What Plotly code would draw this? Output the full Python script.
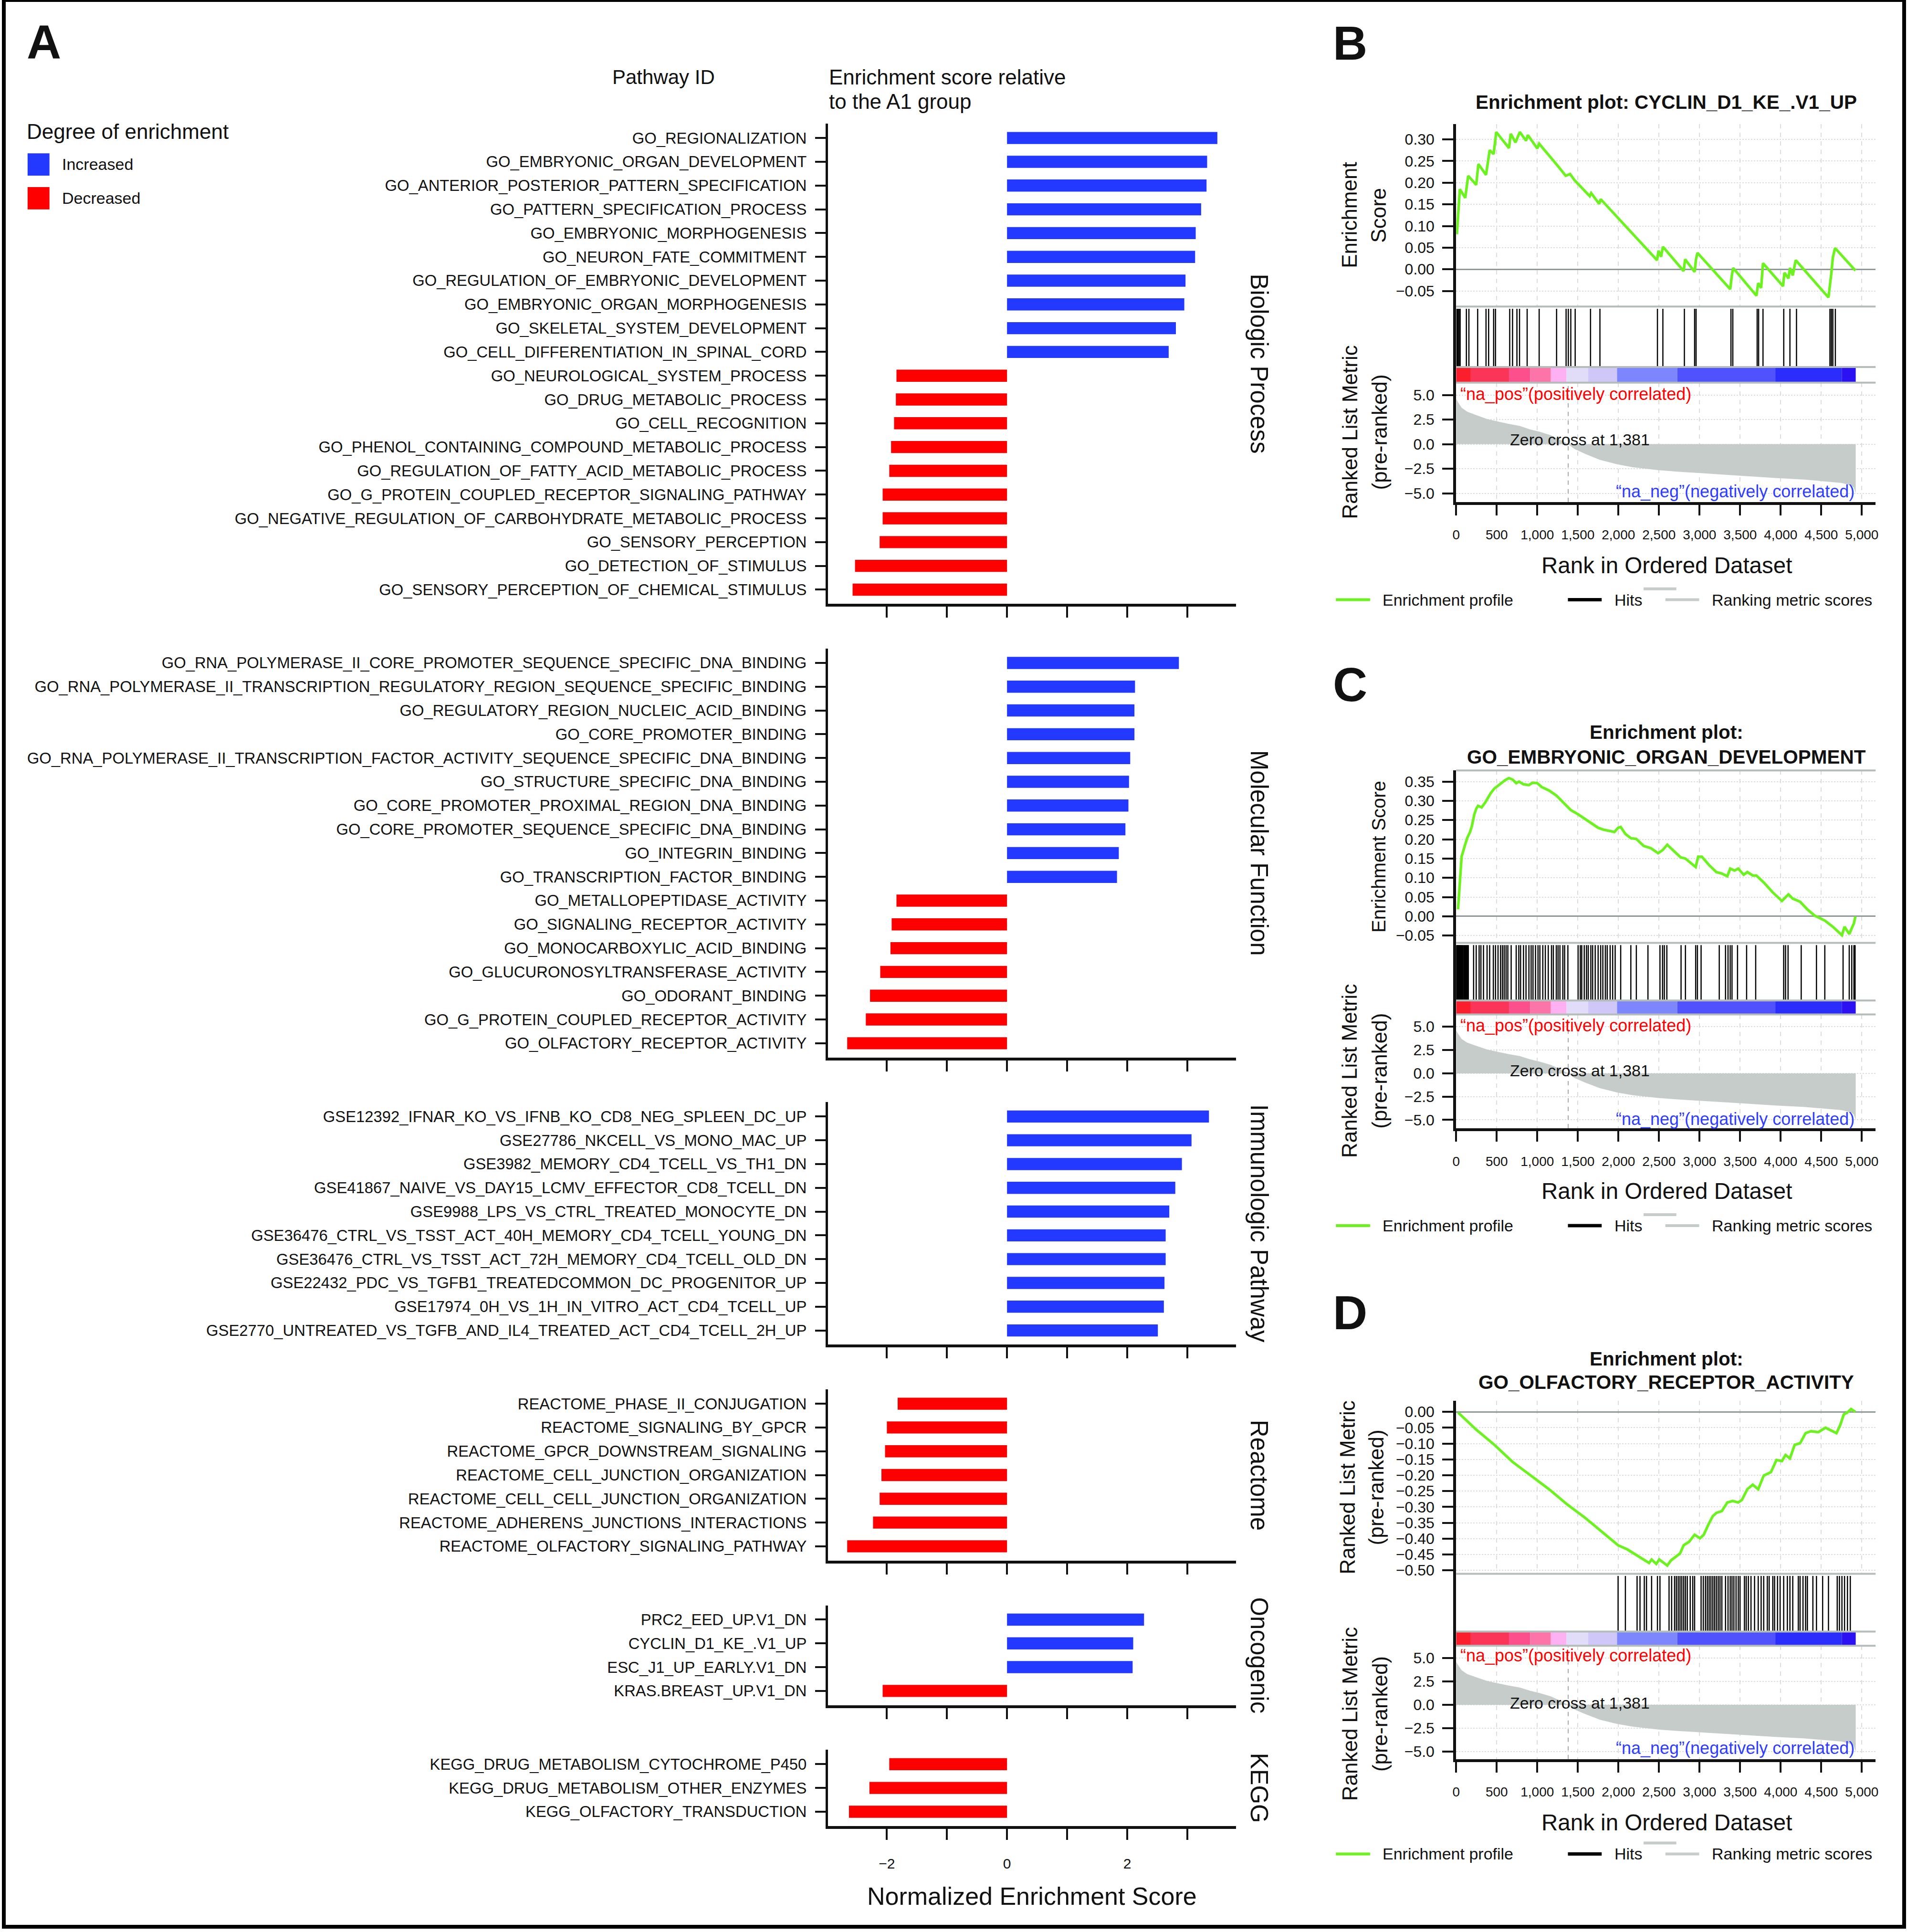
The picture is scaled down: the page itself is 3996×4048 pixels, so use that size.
import plotly.graph_objects as go

W, H = 3996, 4048
FONT = "Liberation Sans, Arial, Helvetica, sans-serif"
INK = "#111111"

# ------------------------------------------------------------------ Panel A data
bp_labels = ["GO_REGIONALIZATION", "GO_EMBRYONIC_ORGAN_DEVELOPMENT", "GO_ANTERIOR_POSTERIOR_PATTERN_SPECIFICATION",
             "GO_PATTERN_SPECIFICATION_PROCESS", "GO_EMBRYONIC_MORPHOGENESIS", "GO_NEURON_FATE_COMMITMENT",
             "GO_REGULATION_OF_EMBRYONIC_DEVELOPMENT", "GO_EMBRYONIC_ORGAN_MORPHOGENESIS", "GO_SKELETAL_SYSTEM_DEVELOPMENT",
             "GO_CELL_DIFFERENTIATION_IN_SPINAL_CORD", "GO_NEUROLOGICAL_SYSTEM_PROCESS", "GO_DRUG_METABOLIC_PROCESS",
             "GO_CELL_RECOGNITION", "GO_PHENOL_CONTAINING_COMPOUND_METABOLIC_PROCESS",
             "GO_REGULATION_OF_FATTY_ACID_METABOLIC_PROCESS", "GO_G_PROTEIN_COUPLED_RECEPTOR_SIGNALING_PATHWAY",
             "GO_NEGATIVE_REGULATION_OF_CARBOHYDRATE_METABOLIC_PROCESS", "GO_SENSORY_PERCEPTION",
             "GO_DETECTION_OF_STIMULUS", "GO_SENSORY_PERCEPTION_OF_CHEMICAL_STIMULUS"]
bp_nes = [3.50, 3.33, 3.32, 3.23, 3.14, 3.13, 2.97, 2.95, 2.81, 2.69,
          -1.84, -1.85, -1.88, -1.93, -1.96, -2.07, -2.07, -2.12, -2.53, -2.57]

mf_labels = ["GO_RNA_POLYMERASE_II_CORE_PROMOTER_SEQUENCE_SPECIFIC_DNA_BINDING",
             "GO_RNA_POLYMERASE_II_TRANSCRIPTION_REGULATORY_REGION_SEQUENCE_SPECIFIC_BINDING",
             "GO_REGULATORY_REGION_NUCLEIC_ACID_BINDING", "GO_CORE_PROMOTER_BINDING",
             "GO_RNA_POLYMERASE_II_TRANSCRIPTION_FACTOR_ACTIVITY_SEQUENCE_SPECIFIC_DNA_BINDING",
             "GO_STRUCTURE_SPECIFIC_DNA_BINDING", "GO_CORE_PROMOTER_PROXIMAL_REGION_DNA_BINDING",
             "GO_CORE_PROMOTER_SEQUENCE_SPECIFIC_DNA_BINDING", "GO_INTEGRIN_BINDING", "GO_TRANSCRIPTION_FACTOR_BINDING",
             "GO_METALLOPEPTIDASE_ACTIVITY", "GO_SIGNALING_RECEPTOR_ACTIVITY", "GO_MONOCARBOXYLIC_ACID_BINDING",
             "GO_GLUCURONOSYLTRANSFERASE_ACTIVITY", "GO_ODORANT_BINDING", "GO_G_PROTEIN_COUPLED_RECEPTOR_ACTIVITY",
             "GO_OLFACTORY_RECEPTOR_ACTIVITY"]
mf_nes = [2.86, 2.13, 2.12, 2.12, 2.05, 2.03, 2.02, 1.97, 1.86, 1.83,
          -1.84, -1.92, -1.94, -2.11, -2.28, -2.35, -2.66]

imm_labels = ["GSE12392_IFNAR_KO_VS_IFNB_KO_CD8_NEG_SPLEEN_DC_UP", "GSE27786_NKCELL_VS_MONO_MAC_UP",
              "GSE3982_MEMORY_CD4_TCELL_VS_TH1_DN", "GSE41867_NAIVE_VS_DAY15_LCMV_EFFECTOR_CD8_TCELL_DN",
              "GSE9988_LPS_VS_CTRL_TREATED_MONOCYTE_DN", "GSE36476_CTRL_VS_TSST_ACT_40H_MEMORY_CD4_TCELL_YOUNG_DN",
              "GSE36476_CTRL_VS_TSST_ACT_72H_MEMORY_CD4_TCELL_OLD_DN",
              "GSE22432_PDC_VS_TGFB1_TREATEDCOMMON_DC_PROGENITOR_UP", "GSE17974_0H_VS_1H_IN_VITRO_ACT_CD4_TCELL_UP",
              "GSE2770_UNTREATED_VS_TGFB_AND_IL4_TREATED_ACT_CD4_TCELL_2H_UP"]
imm_nes = [3.36, 3.07, 2.91, 2.80, 2.70, 2.64, 2.64, 2.62, 2.61, 2.51]

reac_labels = ["REACTOME_PHASE_II_CONJUGATION", "REACTOME_SIGNALING_BY_GPCR", "REACTOME_GPCR_DOWNSTREAM_SIGNALING",
               "REACTOME_CELL_JUNCTION_ORGANIZATION", "REACTOME_CELL_CELL_JUNCTION_ORGANIZATION",
               "REACTOME_ADHERENS_JUNCTIONS_INTERACTIONS", "REACTOME_OLFACTORY_SIGNALING_PATHWAY"]
reac_nes = [-1.82, -2.00, -2.03, -2.09, -2.12, -2.23, -2.66]

onc_labels = ["PRC2_EED_UP.V1_DN", "CYCLIN_D1_KE_.V1_UP", "ESC_J1_UP_EARLY.V1_DN", "KRAS.BREAST_UP.V1_DN"]
onc_nes = [2.28, 2.10, 2.09, -2.07]

kegg_labels = ["KEGG_DRUG_METABOLISM_CYTOCHROME_P450", "KEGG_DRUG_METABOLISM_OTHER_ENZYMES",
               "KEGG_OLFACTORY_TRANSDUCTION"]
kegg_nes = [-1.96, -2.29, -2.63]

facet_names = ["Biologic Process", "Molecular Function", "Immunologic Pathway", "Reactome", "Oncogenic", "KEGG"]
nes_ticks = [-2, -1, 0, 1, 2, 3]
nes_ticktext = ["\u22122", "", "0", "", "2", ""]

# ------------------------------------------------------------------ GSEA data (B, C, D)
rank_ticks = [0, 500, 1000, 1500, 2000, 2500, 3000, 3500, 4000, 4500, 5000]
zero_cross = 1381

metric_rank = [1, 20, 67, 135, 247, 382, 516, 651, 785, 911, 1032, 1167, 1279, 1381, 1458, 1593, 1772, 1983,
               2176, 2490, 2728, 3163, 3477, 3934, 4284, 4755, 4867, 4900, 4925]
metric_value = [4.6, 4.3, 3.7, 3.3, 2.95, 2.55, 2.3, 2.05, 1.85, 1.5, 1.25, 0.9, 0.45, 0.0, -0.5, -1.0, -1.6, -2.05,
                -2.35, -2.65, -2.8, -3.05, -3.2, -3.45, -3.6, -3.95, -4.2, -4.4, -5.0]

bar_edges = [0, 180, 651, 911, 1167, 1360, 1628, 1983, 2727, 3934, 4755, 4925]
bar_colors = ["#fb1e2c", "#fa3558", "#fd4f8b", "#fd74a8", "#fdb0f2", "#e1ddf8", "#cec7f7", "#7d86fd", "#5052fd",
              "#2b2dfd", "#2c12f2"]

es_b_rank = [9, 45, 112, 148, 247, 274, 368, 413, 462, 494, 651, 673, 731, 785, 861, 884, 1000, 1023, 1234, 1350,
             1404, 1458, 1646, 1664, 1763, 1781, 2476, 2494, 2526, 2548, 2804, 2822, 2939, 2956, 2974, 3378, 3396,
             3414, 3701, 3723, 3759, 3782, 4029, 4046, 4096, 4114, 4149, 4185, 4589, 4607, 4625, 4643, 4670, 4921]
es_b_score = [0.081, 0.185, 0.165, 0.216, 0.195, 0.243, 0.218, 0.275, 0.266, 0.317, 0.280, 0.313, 0.293, 0.317,
              0.297, 0.310, 0.279, 0.290, 0.243, 0.216, 0.220, 0.206, 0.169, 0.176, 0.151, 0.162, 0.021, 0.043,
              0.029, 0.052, -0.004, 0.023, -0.006, 0.023, 0.038, -0.046, -0.017, 0.003, -0.061, -0.032, -0.043,
              0.014, -0.039, -0.008, -0.021, 0.003, -0.014, 0.021, -0.065, -0.039, -0.008, 0.027, 0.049, -0.003]
hits_b = [9, 22, 36, 49, 126, 157, 265, 368, 400, 462, 485, 660, 695, 749, 781, 875, 1023, 1238, 1355, 1382, 1413,
          1467, 1656, 1772, 2481, 2548, 2813, 2939, 2957, 3387, 3410, 3710, 3728, 3782, 4038, 4114, 4195, 4607, 4625,
          4643, 4674]

es_c_rank = [23, 45, 67, 103, 135, 171, 193, 224, 247, 269, 314, 359, 390, 426, 471, 516, 561, 606, 651, 696, 740,
             776, 830, 897, 942, 1000, 1054, 1144, 1234, 1323, 1413, 1503, 1593, 1682, 1750, 1817, 1907, 1951, 1996,
             2028, 2086, 2153, 2221, 2310, 2400, 2490, 2544, 2602, 2692, 2768, 2826, 2952, 2983, 3028, 3118, 3207,
             3275, 3342, 3378, 3432, 3477, 3544, 3589, 3656, 3701, 3791, 3903, 4015, 4096, 4149, 4239, 4329, 4419,
             4486, 4544, 4643, 4755, 4787, 4845, 4876, 4903, 4921]
es_c_score = [0.018, 0.083, 0.155, 0.181, 0.203, 0.219, 0.234, 0.265, 0.279, 0.287, 0.283, 0.296, 0.307, 0.320,
              0.332, 0.340, 0.347, 0.354, 0.359, 0.355, 0.346, 0.350, 0.343, 0.341, 0.347, 0.346, 0.336, 0.327,
              0.314, 0.294, 0.276, 0.265, 0.252, 0.239, 0.230, 0.225, 0.221, 0.219, 0.230, 0.232, 0.214, 0.203,
              0.201, 0.183, 0.177, 0.164, 0.172, 0.186, 0.168, 0.153, 0.150, 0.128, 0.155, 0.155, 0.133, 0.115,
              0.111, 0.104, 0.124, 0.119, 0.124, 0.108, 0.115, 0.106, 0.106, 0.088, 0.062, 0.040, 0.057, 0.046,
              0.038, 0.018, 0.002, -0.004, -0.011, -0.027, -0.049, -0.027, -0.046, -0.031, -0.018, 0.000]
hits_c = [3, 9, 14, 21, 27, 34, 42, 48, 57, 66, 74, 83, 95, 104, 117, 128, 139, 150, 215, 247, 283, 305, 337, 381,
          413, 458, 485, 516, 547, 570, 592, 615, 637, 678, 740, 772, 794, 830, 861, 897, 924, 947, 978, 1009, 1032,
          1068, 1099, 1135, 1175, 1198, 1234, 1256, 1279, 1315, 1337, 1377, 1503, 1530, 1548, 1579, 1606, 1628, 1660,
          1682, 1714, 1750, 1781, 1808, 1839, 1862, 1898, 1929, 1960, 2028, 2153, 2221, 2364, 2512, 2544, 2566, 2597,
          2772, 2826, 2952, 2974, 3019, 3243, 3320, 3351, 3378, 3400, 3468, 3580, 3692, 4037, 4060, 4091, 4253, 4441,
          4544, 4769, 4845, 4876, 4903, 4917]

es_d_rank = [23, 247, 471, 696, 920, 1144, 1368, 1593, 1817, 1996, 2109, 2221, 2310, 2378, 2409, 2467, 2503, 2602,
             2647, 2759, 2804, 2871, 2939, 3006, 3051, 3118, 3163, 3207, 3275, 3342, 3409, 3477, 3522, 3589, 3656,
             3723, 3791, 3880, 3948, 4015, 4060, 4114, 4172, 4239, 4307, 4374, 4464, 4553, 4621, 4688, 4733, 4778,
             4823, 4867, 4921]
es_d_score = [-0.002, -0.056, -0.104, -0.158, -0.201, -0.244, -0.292, -0.335, -0.383, -0.421, -0.434, -0.453,
              -0.466, -0.477, -0.466, -0.480, -0.466, -0.485, -0.469, -0.447, -0.421, -0.410, -0.388, -0.399,
              -0.388, -0.351, -0.329, -0.319, -0.313, -0.286, -0.281, -0.286, -0.278, -0.244, -0.230, -0.244,
              -0.201, -0.190, -0.152, -0.155, -0.136, -0.147, -0.104, -0.099, -0.067, -0.061, -0.064, -0.050,
              -0.059, -0.067, -0.042, -0.008, -0.002, 0.009, 0.000]
hits_d = [1996, 2086, 2230, 2266, 2319, 2346, 2409, 2481, 2512, 2624, 2656, 2692, 2714, 2737, 2759, 2781, 2804, 2826,
          2849, 2885, 2916, 2939, 3019, 3046, 3073, 3096, 3118, 3140, 3163, 3185, 3207, 3230, 3252, 3275, 3320, 3351,
          3378, 3400, 3423, 3450, 3477, 3499, 3553, 3575, 3602, 3634, 3678, 3723, 3759, 3791, 3835, 3858, 3903, 3925,
          3961, 3993, 4037, 4082, 4114, 4149, 4217, 4239, 4275, 4307, 4329, 4397, 4441, 4517, 4589, 4697, 4724, 4755,
          4787, 4823, 4858]

# ------------------------------------------------------------------ helpers
layout = {}
traces = []
annotations = []
shapes = []
_axn = [0]


def new_axes(xpx, ypx, xa, ya):
    _axn[0] += 1
    n = _axn[0]
    s = "" if n == 1 else str(n)
    layout["xaxis" + s] = dict(domain=[xpx[0] / W, xpx[1] / W], anchor="y" + s, **xa)
    layout["yaxis" + s] = dict(domain=[1 - ypx[1] / H, 1 - ypx[0] / H], anchor="x" + s, **ya)
    return "x" + s, "y" + s


def ann(text, x, y, size, xanchor="center", yanchor="middle", color=INK, bold=False, angle=0):
    if bold:
        text = "<b>" + text + "</b>"
    annotations.append(dict(text=text, x=x / W, y=1 - y / H, xref="paper", yref="paper", xanchor=xanchor,
                            yanchor=yanchor, showarrow=False, textangle=angle,
                            font=dict(size=size, color=color, family=FONT)))


def pline(x0, y0, x1, y1, color, width, dash=None):
    shapes.append(dict(type="line", xref="paper", yref="paper", x0=x0 / W, x1=x1 / W, y0=1 - y0 / H, y1=1 - y1 / H,
                       line=dict(color=color, width=width, dash=dash)))


def prect(x0, y0, x1, y1, color):
    shapes.append(dict(type="rect", xref="paper", yref="paper", x0=x0 / W, x1=x1 / W, y0=1 - y1 / H, y1=1 - y0 / H,
                       fillcolor=color, line=dict(width=0)))


# ------------------------------------------------------------------ Panel A
BLUE, RED = "#2339ff", "#ff0000"
A_X = (1733, 2591)
UNIT = 49.94
GAP = 94
facets = [(bp_labels, bp_nes), (mf_labels, mf_nes), (imm_labels, imm_nes), (reac_labels, reac_nes),
          (onc_labels, onc_nes), (kegg_labels, kegg_nes)]
top = 260
for i, (labs, vals) in enumerate(facets):
    n = len(labs)
    bot = top + (n + 0.2) * UNIT
    last = i == len(facets) - 1
    xa = dict(range=[-2.98, 3.81], tickmode="array", tickvals=nes_ticks, ticktext=nes_ticktext,
              showticklabels=last, ticks="outside", ticklen=23, tickwidth=4, tickcolor=INK,
              showline=True, linewidth=6, linecolor=INK, showgrid=False, zeroline=False,
              tickfont=dict(size=30, color=INK, family=FONT), ticklabelstandoff=24)
    ya = dict(type="category", categoryorder="array", categoryarray=list(reversed(labs)), range=[-0.6, n - 0.4],
              ticks="outside", ticklen=22, tickwidth=4, tickcolor=INK, showline=True, linewidth=5, linecolor=INK,
              showgrid=False, zeroline=False, tickfont=dict(size=32.8, color=INK, family=FONT),
              ticklabelstandoff=11)
    xn, yn = new_axes(A_X, (top, bot), xa, ya)
    traces.append(go.Bar(x=vals, y=labs, orientation="h", width=0.51, xaxis=xn, yaxis=yn, showlegend=False,
                         marker=dict(color=[BLUE if v > 0 else RED for v in vals], line=dict(width=0))))
    ann(facet_names[i], 2640, (top + bot) / 2, 51, angle=90)
    top = bot + GAP

ann("Normalized Enrichment Score", 2162, 3984, 52)
ann("A", 46, 88, 100, xanchor="left", bold=True)
ann("Pathway ID", 1387, 162, 42)
ann("Enrichment score relative", 1733, 162, 44, xanchor="left")
ann("to the A1 group", 1733, 213, 44, xanchor="left")
ann("Degree of enrichment", 46, 276, 44, xanchor="left")
prect(50, 322, 96, 369, BLUE)
prect(50, 393, 96, 440, RED)
ann("Increased", 120, 345, 34, xanchor="left")
ann("Decreased", 120, 416, 34, xanchor="left")

# ------------------------------------------------------------------ GSEA panels
G_X = (3054, 3936)
XR = [0, 5170]
GREEN = "#6cf21e"
GREY = "#c6ccc9"
SEP = "#b5bdba"
GRID = "#dcdcdc"

panels = [
    dict(letter="B", letter_y=90, title=["Enrichment plot: CYCLIN_D1_KE_.V1_UP"], title_y=[215],
         es=(261, 644), hitband=(644, 771), cb=(771, 804), rk=(804, 1054.5),
         es_range=[-0.086, 0.335], rk_range=[-5.88, 6.25],
         es_title=["Enrichment", "Score"], es_title_x=[2830, 2891], es_title_y=452, es_title_size=44,
         rk_title_y=908, napos_y=828, zero_y=923.6, naneg_y=1032, xtitle_y=1188, legend_y=1260, top_line=False,
         es_x=es_b_rank, es_y=es_b_score, hitlist=hits_b),
    dict(letter="C", letter_y=1438, title=["Enrichment plot:", "GO_EMBRYONIC_ORGAN_DEVELOPMENT"],
         title_y=[1538, 1590],
         es=(1618.6, 1981), hitband=(1981, 2102), cb=(2102, 2131.3), rk=(2131.3, 2370.5),
         es_range=[-0.069, 0.379], rk_range=[-5.90, 6.32],
         es_title=["Enrichment Score"], es_title_x=[2891], es_title_y=1800, es_title_size=40,
         rk_title_y=2250, napos_y=2154, zero_y=2249, naneg_y=2351, xtitle_y=2502, legend_y=2575, top_line=True,
         es_x=es_c_rank, es_y=es_c_score, hitlist=hits_c),
    dict(letter="D", letter_y=2757, title=["Enrichment plot:", "GO_OLFACTORY_RECEPTOR_ACTIVITY"],
         title_y=[2855, 2903.6],
         es=(2943, 3306.4), hitband=(3306.4, 3427.8), cb=(3427.8, 3457.6), rk=(3457.6, 3695.9),
         es_range=[-0.511, 0.035], rk_range=[-5.83, 6.33],
         es_title=["Ranked List Metric", "(pre-ranked)"], es_title_x=[2825, 2886], es_title_y=3125,
         es_title_size=44,
         rk_title_y=3601, napos_y=3478, zero_y=3577.6, naneg_y=3672, xtitle_y=3828.6, legend_y=3895,
         top_line=False, es_x=es_d_rank, es_y=es_d_score, hitlist=hits_d),
]

tickfont_y = dict(size=32, color=INK, family=FONT)
tickfont_x = dict(size=28, color=INK, family=FONT)

for p in panels:
    # enrichment score panel
    xa = dict(range=XR, showticklabels=False, ticks="", showline=False, zeroline=False, showgrid=True,
              tickmode="array", tickvals=rank_ticks, gridcolor=GRID, griddash="dash", gridwidth=2)
    ya = dict(range=p["es_range"], dtick=0.05, tick0=0, tickformat=".2f", ticks="outside", ticklen=23, tickwidth=4,
              tickcolor=INK, showline=True, linewidth=6, linecolor=INK, showgrid=True, gridcolor=GRID,
              griddash="dot", gridwidth=2, zeroline=True, zerolinecolor="#8e9a97", zerolinewidth=3,
              tickfont=tickfont_y, ticklabelstandoff=10)
    xn, yn = new_axes(G_X, p["es"], xa, ya)
    traces.append(go.Scatter(x=p["es_x"], y=p["es_y"], mode="lines", line=dict(color=GREEN, width=5.5),
                             xaxis=xn, yaxis=yn, showlegend=False))

    # hits panel
    xa = dict(range=XR, visible=False)
    ya = dict(range=[0, 1.04], showticklabels=False, ticks="", showgrid=False, zeroline=False, showline=True,
              linewidth=6, linecolor=INK)
    xn, yn = new_axes(G_X, p["hitband"], xa, ya)
    hx, hy = [], []
    for h in p["hitlist"]:
        hx += [h, h, None]
        hy += [0, 1, None]
    traces.append(go.Scatter(x=hx, y=hy, mode="lines", line=dict(color="#000000", width=2.5),
                             xaxis=xn, yaxis=yn, showlegend=False))

    # colour bar
    xa = dict(range=XR, visible=False)
    ya = dict(range=[-0.5, 0.5], showticklabels=False, ticks="", showgrid=False, zeroline=False, showline=True,
              linewidth=6, linecolor=INK)
    xn, yn = new_axes(G_X, p["cb"], xa, ya)
    starts = bar_edges[:-1]
    widths = [b - a for a, b in zip(bar_edges[:-1], bar_edges[1:])]
    traces.append(go.Bar(x=widths, base=starts, y=[0] * len(widths), orientation="h", width=1,
                         marker=dict(color=bar_colors, line=dict(width=0)), xaxis=xn, yaxis=yn, showlegend=False))

    # ranked list metric
    xa = dict(range=XR, tickmode="array", tickvals=rank_ticks, tickformat=",", ticks="outside", ticklen=22,
              tickwidth=4, tickcolor=INK, showline=True, linewidth=6, linecolor=INK, showgrid=True, gridcolor=GRID,
              griddash="dash", gridwidth=2, zeroline=False, tickfont=tickfont_x, ticklabelstandoff=17)
    ya = dict(range=p["rk_range"], dtick=2.5, tick0=0, tickformat=".1f", ticks="outside", ticklen=23, tickwidth=4,
              tickcolor=INK, showline=True, linewidth=6, linecolor=INK, showgrid=True, gridcolor=GRID,
              griddash="dot", gridwidth=2, zeroline=False, tickfont=tickfont_y, ticklabelstandoff=10)
    xn, yn = new_axes(G_X, p["rk"], xa, ya)
    traces.append(go.Scatter(x=metric_rank, y=metric_value, mode="lines", fill="tozeroy", fillcolor=GREY,
                             line=dict(width=0, color=GREY), xaxis=xn, yaxis=yn, showlegend=False))
    shapes.append(dict(type="line", xref=xn, yref=yn + " domain", x0=zero_cross, x1=zero_cross, y0=0, y1=1,
                       line=dict(color="#a3a9a7", width=2, dash="dash")))

    # separators
    if p["top_line"]:
        pline(G_X[0], p["es"][0], G_X[1], p["es"][0], SEP, 4)
    pline(G_X[0], p["es"][1], G_X[1], p["es"][1], SEP, 4)
    pline(G_X[0], p["cb"][0], G_X[1], p["cb"][0], SEP, 4)
    pline(G_X[0], p["cb"][1], G_X[1], p["cb"][1], SEP, 4)

    # texts
    ann(p["letter"], 2793, p["letter_y"], 100, xanchor="left", bold=True)
    for t, ty in zip(p["title"], p["title_y"]):
        ann(t, 3496, ty, 40.5, bold=True)
    for t, tx in zip(p["es_title"], p["es_title_x"]):
        ann(t, tx, p["es_title_y"], p["es_title_size"], angle=-90)
    ann("Ranked List Metric", 2830, p["rk_title_y"], 44, angle=-90)
    ann("(pre-ranked)", 2893, p["rk_title_y"], 44, angle=-90)
    ann("\u201cna_pos\u201d(positively correlated)", 3061, p["napos_y"], 36, xanchor="left", color="#ff0000")
    ann("Zero cross at {:,}".format(zero_cross), 3165, p["zero_y"], 34, xanchor="left")
    ann("\u201cna_neg\u201d(negatively correlated)", 3894, p["naneg_y"], 36, xanchor="right", color="#2f3dff")
    ann("Rank in Ordered Dataset", 3497, p["xtitle_y"], 47.5)

    ly = p["legend_y"]
    pline(2801, ly, 2873, ly, GREEN, 6)
    ann("Enrichment profile", 2897, ly, 34, xanchor="left")
    pline(3289, ly, 3360, ly, "#000000", 7)
    ann("Hits", 3385, ly, 34, xanchor="left")
    pline(3448, ly - 23, 3517, ly - 23, GREY, 6)
    pline(3494, ly, 3565, ly, GREY, 6)
    ann("Ranking metric scores", 3590, ly, 34, xanchor="left")

# outer frame
shapes.append(dict(type="rect", xref="paper", yref="paper", x0=0, x1=1, y0=0, y1=1,
                   line=dict(color="#000000", width=8), fillcolor="rgba(0,0,0,0)"))

fig = go.Figure(data=traces)
fig.update_layout(**layout)
fig.update_layout(width=W, height=H, autosize=False, margin=dict(l=0, r=0, t=0, b=0),
                  paper_bgcolor="white", plot_bgcolor="white", barmode="overlay", showlegend=False,
                  annotations=annotations, shapes=shapes, font=dict(family=FONT, color=INK))

fig.write_html("out.html", config={"displayModeBar": False},
               post_script="document.body.style.margin='0';document.body.style.overflow='hidden';")
